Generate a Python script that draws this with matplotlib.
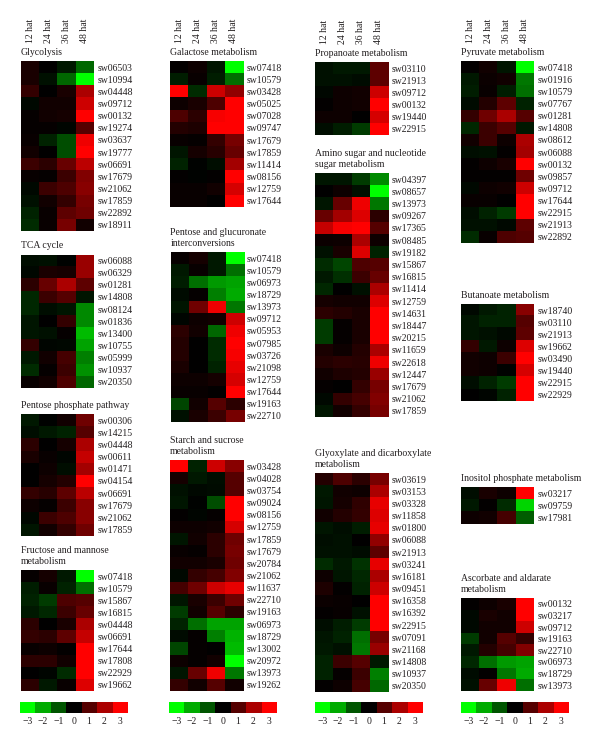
import matplotlib
matplotlib.use("Agg")
import matplotlib.pyplot as plt
from matplotlib.colors import LinearSegmentedColormap
import numpy as np

plt.rcParams['font.family'] = ['Liberation Serif', 'DejaVu Serif']

times = ["12 hat", "24 hat", "36 hat", "48 hat"]
scale_ticks = [-3, -2, -1, 0, 1, 2, 3]

glycolysis_ids = ["sw06503","sw10994","sw04448","sw09712","sw00132","sw19274","sw03637","sw19777","sw06691","sw17679","sw21062","sw17859","sw22892","sw18911"]
glycolysis = [[.3,0,-.3,-1.2],[.3,-.2,-1.2,-3],[.6,0,.3,2.0],[-.1,.2,.2,2.4],[.05,.2,.25,3],[.05,.05,-.05,1],[.1,-.4,-.9,2.8],[.2,0,-.9,3],[.7,.5,1.2,2.2],[.1,.05,.7,1.5],[-.1,.7,.9,1.6],[-.2,.2,.6,1.4],[-.4,.1,1.1,1.3],[-.5,.1,1.4,.2]]

tca_ids = ["sw06088","sw06329","sw01281","sw14808","sw08124","sw01836","sw13400","sw10755","sw05999","sw10937","sw20350"]
tca = [[-.15,-.2,-.03,1.8],[-.08,.3,.25,1.8],[.5,1.2,2.0,1.1],[-.45,.7,1.0,-.25],[-.45,-.15,-.25,-1.6],[-.25,.02,.6,-1.6],[-.25,-.2,.05,-2.2],[.6,-.05,-.08,-1.9],[-.3,.2,.8,-1.5],[-.5,.05,.7,-1.7],[.1,.2,.9,-1.2]]

ppp_ids = ["sw00306","sw14215","sw04448","sw00611","sw01471","sw04154","sw06691","sw17679","sw21062","sw17859"]
ppp = [[-.3,-.03,.2,1.3],[-.15,-.3,-.4,1.0],[.5,0,.25,2.0],[.3,.1,-.05,2.3],[.02,.15,-.15,1.9],[0,.25,.4,3],[.6,.45,1.1,2.2],[.15,.05,.7,1.6],[-.08,.7,.9,1.6],[-.25,.2,.6,1.3]]

fructose_ids = ["sw07418","sw10579","sw15867","sw16815","sw04448","sw06691","sw17644","sw17808","sw22929","sw19662"]
fructose = [[.05,.25,-.3,-3],[-.35,.1,-.4,-1.3],[-.4,-.7,.9,1.0],[-.3,-.45,.7,1.2],[.5,0,.3,2.0],[.6,.5,1.1,2.3],[.1,.15,.03,3],[.5,.5,.2,3],[.02,-.07,-.5,3],[.5,-.3,.1,2.6]]

galactose_ids = ["sw07418","sw10579","sw03428","sw05025","sw07028","sw09747","sw17679","sw17859","sw11414","sw08156","sw12759","sw17644"]
galactose = [[.03,.15,-.25,-3],[-.35,.1,-.35,-1.3],[3,-.5,2.4,1.7],[.15,.3,.9,3],[.9,.5,2.9,3],[.4,.35,3,3],[.1,.05,.6,1.4],[-.25,.25,.45,1.2],[-.4,-.03,-.15,1.9],[.03,-.03,.03,3],[.1,.1,.2,2.5],[.1,.1,.02,3]]

pentose_ids = ["sw07418","sw10579","sw06973","sw18729","sw13973","sw09712","sw05953","sw07985","sw03726","sw21098","sw12759","sw17644","sw19163","sw22710"]
pentose = [[.08,.25,-.3,-3],[-.3,.1,-.3,-1.3],[-.35,-1.3,-1.8,-1.9],[-.12,.05,-1.5,-2.0],[-.25,1.3,2.8,-1.4],[-.07,.15,.2,2.4],[.5,.2,-1.2,2.8],[.4,.02,-.5,3],[.4,.02,-.5,2.9],[.3,.02,-.4,2.7],[.15,.15,.25,2.5],[.1,.1,.03,3],[-.8,.2,1.0,.5],[-.2,.3,.7,1.4]]

starch_ids = ["sw03428","sw04028","sw03754","sw09024","sw08156","sw12759","sw17859","sw17679","sw20784","sw21062","sw11637","sw22710","sw19163","sw06973","sw18729","sw13002","sw20972","sw13973","sw19262"]
starch = [[3,-.4,2.4,1.6],[.25,-.3,-.15,1.0],[-.2,-.1,-.12,1.0],[-.25,-.03,-.9,3],[.03,-.05,.05,3],[.15,.15,.2,2.5],[-.25,.2,.5,1.3],[.1,.05,.5,1.4],[.2,.2,.3,1.3],[-.1,.6,.8,1.5],[.8,1.3,2.4,2.7],[-.25,.3,.7,1.3],[-.7,.2,1.0,.5],[-.4,-1.3,-1.9,-1.9],[-.12,.05,-1.5,-2.1],[-.8,.05,.02,-2.2],[.15,.05,.2,-3],[-.25,1.2,2.8,-1.4],[.6,.2,1.0,.2]]

propanoate_ids = ["sw03110","sw21913","sw09712","sw00132","sw19440","sw22915"]
propanoate = [[-.2,-.3,-.3,1.1],[-.2,-.2,-.12,1.1],[-.08,.15,.2,2.4],[.03,.15,.2,3],[.15,.15,.02,2.5],[-.15,-.35,-.7,3]]

amino_ids = ["sw04397","sw08657","sw13973","sw09267","sw17365","sw08485","sw19182","sw15867","sw16815","sw11414","sw12759","sw14631","sw18447","sw20215","sw11659","sw22618","sw12447","sw17679","sw21062","sw17859"]
amino = [[-.25,-.25,-.7,-1.6],[.02,.15,-.2,-3],[-.25,1.2,2.8,-1.4],[1.2,1.9,2.6,.5],[2.3,2.9,3,1.0],[.12,.15,2.0,.15],[-.2,.3,2.6,-.4],[-.5,-.8,.9,1.0],[-.3,-.55,.7,1.2],[-.45,.02,-.2,2.0],[.25,.2,.2,2.6],[.5,.4,.3,3],[-.7,.07,.3,3],[-.7,.07,.3,3],[.3,.15,.4,2.0],[.4,.5,.45,2.8],[.2,.35,.4,1.8],[.05,.02,.6,1.4],[-.1,.6,.8,1.5],[-.25,.2,.6,1.4]]

glyoxylate_ids = ["sw03619","sw03153","sw03328","sw11858","sw01800","sw06088","sw21913","sw03241","sw16181","sw09451","sw16358","sw16392","sw22915","sw07091","sw21168","sw14808","sw10937","sw20350"]
glyoxylate = [[.4,.9,.5,1.4],[-.3,.2,.15,2.0],[-.25,.25,.55,2.7],[.2,.4,.6,2.6],[-.25,-.15,-.35,2.7],[-.15,-.2,.02,1.7],[-.2,-.2,-.12,1.1],[-.5,-.3,-.6,2.7],[.15,-.25,-.45,2.0],[.35,.03,-.4,2.4],[.12,.1,.02,3],[.03,.08,-.2,3],[-.15,-.35,-.7,3],[-.25,-.4,-1.3,1.4],[-.3,-.2,-1.4,1.8],[-.4,.7,1.0,-.3],[-.4,.05,.7,-1.5],[.03,.15,.8,-1.2]]

pyruvate_ids = ["sw07418","sw01916","sw10579","sw07767","sw01281","sw14808","sw08612","sw06088","sw00132","sw09857","sw09712","sw17644","sw22915","sw21913","sw22892"]
pyruvate = [[.03,.2,-.25,-3],[-.3,.12,.2,-1.4],[-.35,.1,-.35,-1.3],[-.12,.4,1.1,-.4],[.6,1.3,2.0,1.0],[-.45,.7,1.0,-.3],[.2,.7,.15,2.0],[-.15,-.2,.03,1.9],[.03,.15,.3,3],[.03,.03,.03,1.3],[-.1,.15,.2,2.4],[.1,.1,.02,3],[-.15,-.4,-.7,3],[-.2,-.2,-.1,1.1],[-.5,.1,.9,1.0]]

butanoate_ids = ["sw18740","sw03110","sw21913","sw19662","sw03490","sw19440","sw22915","sw22929"]
butanoate = [[-.1,-.3,-.4,1.6],[-.25,-.4,-.4,1.0],[-.25,-.2,-.1,1.1],[.6,-.3,.15,2.6],[.2,.15,.7,3],[.2,.15,-.03,2.5],[-.15,-.4,-.7,3],[.02,-.05,-.4,3]]

inositol_ids = ["sw03217","sw09759","sw17981"]
inositol = [[-.15,.3,.15,3],[-.3,.03,-.5,-2.5],[.15,.2,.8,-1.1]]

ascorbate_ids = ["sw00132","sw03217","sw09712","sw19163","sw22710","sw06973","sw18729","sw13973"]
ascorbate = [[.03,.15,.3,3],[-.1,.3,.2,3],[-.1,.2,.2,2.4],[-.7,.2,1.0,.6],[-.3,.4,.8,1.5],[-.45,-1.3,-1.8,-1.9],[-.12,.03,-1.4,-2.0],[-.2,1.2,2.8,-1.3]]

W, H = 600, 747
TXT = "#231f20"
FS = 7.0
cmap = LinearSegmentedColormap.from_list("gbr", ["#00ff00", "#000000", "#ff0000"])
fig = plt.figure(figsize=(W / 100, H / 100), dpi=100, facecolor="white")


def axes_px(x0, x1, y0, y1):
    return fig.add_axes([x0 / W, 1 - y1 / H, (x1 - x0) / W, (y1 - y0) / H])


def panel(title, ids, values, x0, y0, y1, top_labels=False, gap=4):
    ax = axes_px(x0, x0 + 73, y0, y1)
    ax.imshow(np.array(values), cmap=cmap, vmin=-3, vmax=3, aspect="auto", interpolation="nearest")
    for s in ax.spines.values():
        s.set_visible(False)
    ax.set_yticks(range(len(ids)), ids)
    ax.yaxis.tick_right()
    ax.tick_params(axis="y", length=0, pad=2.6, labelsize=FS, labelcolor=TXT)
    if top_labels:
        ax.xaxis.tick_top()
        ax.set_xticks(range(4), times, rotation=90, ha="center", va="bottom")
        ax.tick_params(axis="x", length=0, pad=13.2, labelsize=FS, labelcolor=TXT)
    else:
        ax.set_xticks([])
    ax.annotate(title, xy=(0, 1), xycoords="axes fraction", xytext=(0, gap * 0.72),
                textcoords="offset points", ha="left", va="bottom", fontsize=FS,
                color=TXT, linespacing=1.25)
    return ax


def scalebar(x0):
    ax = axes_px(x0, x0 + 107.5, 702, 713)
    ax.imshow(np.array([scale_ticks]), cmap=cmap, vmin=-3, vmax=3, aspect="auto", interpolation="nearest")
    for s in ax.spines.values():
        s.set_visible(False)
    ax.set_yticks([])
    ax.set_xticks(range(7), [str(t).replace("-", "\u2212") for t in scale_ticks])
    ax.tick_params(axis="x", length=0, pad=3, labelsize=FS, labelcolor=TXT)


panel("Glycolysis", glycolysis_ids, glycolysis, 21, 61, 231, True)
panel("TCA cycle", tca_ids, tca, 21, 254.5, 388)
panel("Pentose phosphate pathway", ppp_ids, ppp, 21, 414, 535.7)
panel("Fructose and mannose\nmetabolism", fructose_ids, fructose, 21, 570, 691)
scalebar(20)

panel("Galactose metabolism", galactose_ids, galactose, 170, 61, 207, True)
panel("Pentose and glucuronate\ninterconversions", pentose_ids, pentose, 170.5, 252, 422)
panel("Starch and sucrose\nmetabolism", starch_ids, starch, 170, 460, 691)
scalebar(169)

panel("Propanoate metabolism", propanoate_ids, propanoate, 315, 62, 135, True)
panel("Amino sugar and nucleotide\nsugar metabolism", amino_ids, amino, 315, 173, 417)
panel("Glyoxylate and dicarboxylate\nmetabolism", glyoxylate_ids, glyoxylate, 315, 473, 692)
scalebar(315)

panel("Pyruvate metabolism", pyruvate_ids, pyruvate, 461, 61, 243, True)
panel("Butanoate metabolism", butanoate_ids, butanoate, 461, 304, 401)
panel("Inositol phosphate metabolism", inositol_ids, inositol, 461, 487, 524)
panel("Ascorbate and aldarate\nmetabolism", ascorbate_ids, ascorbate, 461, 598, 691)
scalebar(461)

fig.savefig("out.png", dpi=100, facecolor="white")
